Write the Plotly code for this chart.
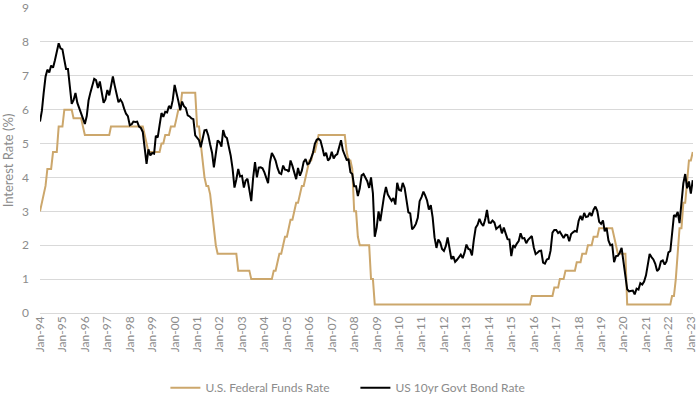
import plotly.graph_objects as go
import pandas as pd

start_month = "1994-01-01"

fed_funds = [
    # 1994
    3.0, 3.25, 3.5, 3.75, 4.25, 4.25, 4.25, 4.75, 4.75, 4.75, 5.5, 5.5,
    # 1995
    5.5, 6.0, 6.0, 6.0, 6.0, 6.0, 5.75, 5.75, 5.75, 5.75, 5.75, 5.5,
    # 1996
    5.25, 5.25, 5.25, 5.25, 5.25, 5.25, 5.25, 5.25, 5.25, 5.25, 5.25, 5.25,
    # 1997
    5.25, 5.25, 5.5, 5.5, 5.5, 5.5, 5.5, 5.5, 5.5, 5.5, 5.5, 5.5,
    # 1998
    5.5, 5.5, 5.5, 5.5, 5.5, 5.5, 5.5, 5.5, 5.25, 5.0, 4.75, 4.75,
    # 1999
    4.75, 4.75, 4.75, 4.75, 4.75, 5.0, 5.0, 5.25, 5.25, 5.25, 5.5, 5.5,
    # 2000
    5.5, 5.75, 6.0, 6.0, 6.5, 6.5, 6.5, 6.5, 6.5, 6.5, 6.5, 6.5,
    # 2001
    5.5, 5.5, 5.0, 4.5, 4.0, 3.75, 3.75, 3.5, 3.0, 2.5, 2.0, 1.75,
    # 2002
    1.75, 1.75, 1.75, 1.75, 1.75, 1.75, 1.75, 1.75, 1.75, 1.75, 1.25, 1.25,
    # 2003
    1.25, 1.25, 1.25, 1.25, 1.25, 1.0, 1.0, 1.0, 1.0, 1.0, 1.0, 1.0,
    # 2004
    1.0, 1.0, 1.0, 1.0, 1.0, 1.25, 1.25, 1.5, 1.75, 1.75, 2.0, 2.25,
    # 2005
    2.25, 2.5, 2.75, 2.75, 3.0, 3.25, 3.25, 3.5, 3.75, 3.75, 4.0, 4.25,
    # 2006
    4.5, 4.5, 4.75, 4.75, 5.0, 5.25, 5.25, 5.25, 5.25, 5.25, 5.25, 5.25,
    # 2007
    5.25, 5.25, 5.25, 5.25, 5.25, 5.25, 5.25, 5.25, 4.75, 4.5, 4.5, 4.25,
    # 2008
    3.0, 3.0, 2.25, 2.0, 2.0, 2.0, 2.0, 2.0, 2.0, 1.0, 1.0, 0.25,
    # 2009
    0.25, 0.25, 0.25, 0.25, 0.25, 0.25, 0.25, 0.25, 0.25, 0.25, 0.25, 0.25,
    # 2010
    0.25, 0.25, 0.25, 0.25, 0.25, 0.25, 0.25, 0.25, 0.25, 0.25, 0.25, 0.25,
    # 2011
    0.25, 0.25, 0.25, 0.25, 0.25, 0.25, 0.25, 0.25, 0.25, 0.25, 0.25, 0.25,
    # 2012
    0.25, 0.25, 0.25, 0.25, 0.25, 0.25, 0.25, 0.25, 0.25, 0.25, 0.25, 0.25,
    # 2013
    0.25, 0.25, 0.25, 0.25, 0.25, 0.25, 0.25, 0.25, 0.25, 0.25, 0.25, 0.25,
    # 2014
    0.25, 0.25, 0.25, 0.25, 0.25, 0.25, 0.25, 0.25, 0.25, 0.25, 0.25, 0.25,
    # 2015
    0.25, 0.25, 0.25, 0.25, 0.25, 0.25, 0.25, 0.25, 0.25, 0.25, 0.25, 0.5,
    # 2016
    0.5, 0.5, 0.5, 0.5, 0.5, 0.5, 0.5, 0.5, 0.5, 0.5, 0.5, 0.75,
    # 2017
    0.75, 0.75, 1.0, 1.0, 1.0, 1.25, 1.25, 1.25, 1.25, 1.25, 1.25, 1.5,
    # 2018
    1.5, 1.5, 1.75, 1.75, 1.75, 2.0, 2.0, 2.0, 2.25, 2.25, 2.25, 2.5,
    # 2019
    2.5, 2.5, 2.5, 2.5, 2.5, 2.5, 2.5, 2.25, 2.0, 1.75, 1.75, 1.75,
    # 2020
    1.75, 1.75, 0.25, 0.25, 0.25, 0.25, 0.25, 0.25, 0.25, 0.25, 0.25, 0.25,
    # 2021
    0.25, 0.25, 0.25, 0.25, 0.25, 0.25, 0.25, 0.25, 0.25, 0.25, 0.25, 0.25,
    # 2022
    0.25, 0.25, 0.5, 0.5, 1.0, 1.75, 2.5, 2.5, 3.25, 3.25, 4.0, 4.5,
    # 2023
    4.5, 4.75,
]

bond_10yr = [
    # 1994
    5.65, 5.97, 6.48, 6.97, 7.18, 7.10, 7.30, 7.24, 7.46, 7.74, 7.96, 7.81,
    # 1995
    7.78, 7.47, 7.20, 7.20, 6.63, 6.17, 6.28, 6.49, 6.20, 6.04, 5.93, 5.71,
    # 1996
    5.58, 5.81, 6.27, 6.51, 6.74, 6.91, 6.87, 6.64, 6.83, 6.53, 6.20, 6.30,
    # 1997
    6.58, 6.42, 6.69, 6.98, 6.71, 6.49, 6.22, 6.30, 6.21, 6.03, 5.88, 5.81,
    # 1998
    5.54, 5.57, 5.65, 5.64, 5.65, 5.50, 5.46, 5.34, 4.81, 4.40, 4.83, 4.65,
    # 1999
    4.72, 4.70, 5.23, 5.18, 5.54, 5.90, 5.79, 5.94, 5.92, 6.11, 6.03, 6.28,
    # 2000
    6.73, 6.52, 6.26, 5.99, 6.24, 6.10, 6.05, 5.83, 5.80, 5.74, 5.72, 5.24,
    # 2001
    5.16, 5.10, 4.89, 5.14, 5.39, 5.40, 5.24, 4.97, 4.73, 4.30, 4.65, 5.09,
    # 2002
    5.04, 4.91, 5.40, 5.21, 5.16, 4.93, 4.65, 4.26, 3.70, 3.94, 4.25, 4.03,
    # 2003
    4.05, 3.70, 3.90, 3.96, 3.57, 3.30, 3.98, 4.45, 4.00, 4.29, 4.30, 4.27,
    # 2004
    4.15, 3.98, 3.83, 4.45, 4.72, 4.62, 4.50, 4.28, 4.13, 4.10, 4.35, 4.23,
    # 2005
    4.22, 4.17, 4.50, 4.34, 4.14, 3.95, 4.28, 4.05, 4.20, 4.46, 4.54, 4.39,
    # 2006
    4.42, 4.57, 4.72, 4.99, 5.11, 5.14, 5.09, 4.88, 4.63, 4.73, 4.50, 4.56,
    # 2007
    4.76, 4.56, 4.65, 4.69, 4.90, 5.10, 4.80, 4.67, 4.52, 4.53, 4.15, 4.10,
    # 2008
    3.74, 3.74, 3.45, 3.68, 4.06, 4.10, 3.99, 3.89, 3.69, 4.00, 3.53, 2.25,
    # 2009
    2.52, 3.00, 2.71, 3.12, 3.45, 3.72, 3.50, 3.40, 3.31, 3.39, 3.20, 3.84,
    # 2010
    3.63, 3.61, 3.84, 3.69, 3.31, 2.97, 2.94, 2.47, 2.53, 2.63, 2.81, 3.30,
    # 2011
    3.42, 3.58, 3.47, 3.32, 3.05, 3.18, 2.82, 2.23, 1.92, 2.17, 2.08, 1.89,
    # 2012
    1.83, 1.98, 2.23, 1.95, 1.59, 1.67, 1.51, 1.57, 1.65, 1.72, 1.62, 1.78,
    # 2013
    2.02, 1.89, 1.87, 1.70, 2.16, 2.52, 2.60, 2.78, 2.64, 2.57, 2.75, 3.04,
    # 2014
    2.67, 2.66, 2.73, 2.67, 2.48, 2.53, 2.58, 2.35, 2.52, 2.35, 2.18, 2.17,
    # 2015
    1.68, 2.00, 1.94, 2.05, 2.12, 2.35, 2.20, 2.21, 2.06, 2.16, 2.21, 2.27,
    # 2016
    1.94, 1.74, 1.78, 1.83, 1.84, 1.49, 1.46, 1.58, 1.60, 1.84, 2.37, 2.45,
    # 2017
    2.45, 2.36, 2.40, 2.29, 2.21, 2.31, 2.30, 2.12, 2.33, 2.38, 2.42, 2.40,
    # 2018
    2.72, 2.87, 2.74, 2.95, 2.83, 2.85, 2.96, 2.86, 3.05, 3.14, 3.01, 2.69,
    # 2019
    2.63, 2.73, 2.41, 2.51, 2.14, 2.00, 2.02, 1.50, 1.68, 1.69, 1.78, 1.92,
    # 2020
    1.51, 1.13, 0.70, 0.64, 0.65, 0.66, 0.55, 0.72, 0.69, 0.88, 0.84, 0.93,
    # 2021
    1.11, 1.44, 1.74, 1.65, 1.58, 1.45, 1.24, 1.30, 1.52, 1.55, 1.43, 1.52,
    # 2022
    1.79, 1.83, 2.32, 2.89, 2.85, 2.98, 2.65, 3.15, 3.83, 4.10, 3.68, 3.88,
    # 2023
    3.52, 3.92,
]

dates = pd.date_range(start_month, periods=len(fed_funds), freq="MS")

grey = "#8c8c8c"
font_family = "Lato, 'Open Sans', sans-serif"

fig = go.Figure()
fig.add_trace(go.Scatter(
    x=dates, y=fed_funds, mode="lines", name="U.S. Federal Funds Rate",
    line=dict(color="#CCA76C", width=2),
))
fig.add_trace(go.Scatter(
    x=dates[:len(bond_10yr)], y=bond_10yr, mode="lines", name="US 10yr Govt Bond Rate",
    line=dict(color="#000000", width=2),
))

fig.update_layout(
    width=700, height=397,
    margin=dict(l=40, r=7, t=8, b=84, autoexpand=False),
    paper_bgcolor="white", plot_bgcolor="white",
    font=dict(family=font_family, color=grey, size=12),
    showlegend=True,
    legend=dict(
        orientation="h",
        x=0.483, xanchor="center", y=-0.245, yanchor="middle",
        font=dict(size=12, color=grey),
        itemwidth=30,
        entrywidth=145, entrywidthmode="pixels",
    ),
)
fig.update_xaxes(
    type="date", automargin=False,
    range=["1994-01-01", "2023-02-05"],
    tickformat="%b-%y", dtick="M12", tick0="1994-01-01",
    tickangle=-90, tickfont=dict(size=12, color=grey),
    showgrid=False, showline=False, zeroline=False, ticks="",
)
fig.update_yaxes(
    range=[0, 9], dtick=1, automargin=False,
    showgrid=True, gridcolor="#d9d9d9", gridwidth=1,
    zeroline=True, zerolinecolor="#d9d9d9", zerolinewidth=1,
    showline=False, ticks="",
    tickfont=dict(size=12, color=grey),
    ticklabelstandoff=10,
    title=dict(text="Interest Rate (%)", font=dict(size=13, color=grey), standoff=6),
)

fig.write_html(
    "out.html",
    config={"displayModeBar": False},
    post_script="document.body.style.margin='0px';document.body.style.overflow='hidden';",
)
